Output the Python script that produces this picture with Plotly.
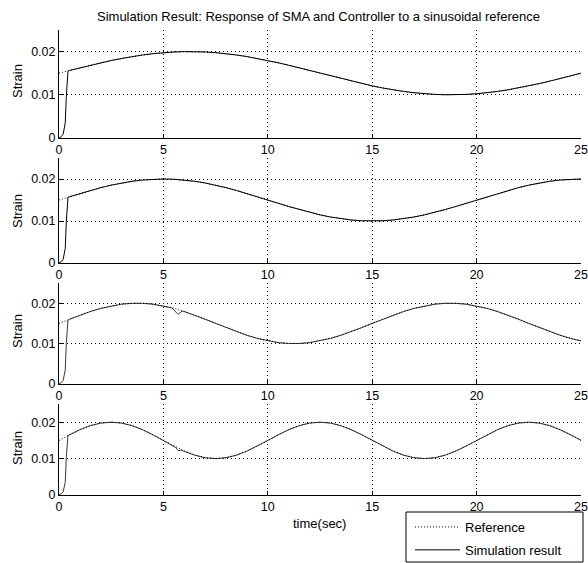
import plotly.graph_objects as go
from plotly.subplots import make_subplots

# ---------------- data ----------------
t_ref = [0, 0.5, 1, 1.5, 2, 2.5, 3, 3.5, 4, 4.5, 5, 5.5, 6, 6.5, 7, 7.5, 8, 8.5, 9, 9.5,
         10, 10.5, 11, 11.5, 12, 12.5, 13, 13.5, 14, 14.5, 15, 15.5, 16, 16.5, 17, 17.5,
         18, 18.5, 19, 19.5, 20, 20.5, 21, 21.5, 22, 22.5, 23, 23.5, 24, 24.5, 25]

ref1 = [0.01500, 0.01563, 0.01624, 0.01684, 0.01741, 0.01794, 0.01842, 0.01885, 0.01922, 0.01952,
        0.01976, 0.01991, 0.01999, 0.01999, 0.01991, 0.01976, 0.01952, 0.01922, 0.01885, 0.01842,
        0.01794, 0.01741, 0.01684, 0.01624, 0.01563, 0.01500, 0.01437, 0.01376, 0.01316, 0.01259,
        0.01206, 0.01158, 0.01115, 0.01078, 0.01048, 0.01024, 0.01009, 0.01001, 0.01001, 0.01009,
        0.01024, 0.01048, 0.01078, 0.01115, 0.01158, 0.01206, 0.01259, 0.01316, 0.01376, 0.01437,
        0.01500]
ref2 = [0.01500, 0.01578, 0.01655, 0.01727, 0.01794, 0.01854, 0.01905, 0.01946, 0.01976, 0.01994,
        0.02000, 0.01994, 0.01976, 0.01946, 0.01905, 0.01854, 0.01794, 0.01727, 0.01655, 0.01578,
        0.01500, 0.01422, 0.01345, 0.01273, 0.01206, 0.01146, 0.01095, 0.01054, 0.01024, 0.01006,
        0.01000, 0.01006, 0.01024, 0.01054, 0.01095, 0.01146, 0.01206, 0.01273, 0.01345, 0.01422,
        0.01500, 0.01578, 0.01655, 0.01727, 0.01794, 0.01854, 0.01905, 0.01946, 0.01976, 0.01994,
        0.02000]
ref3 = [0.01500, 0.01604, 0.01703, 0.01794, 0.01872, 0.01933, 0.01976, 0.01997, 0.01997, 0.01976,
        0.01933, 0.01872, 0.01794, 0.01703, 0.01604, 0.01500, 0.01396, 0.01297, 0.01206, 0.01128,
        0.01067, 0.01024, 0.01003, 0.01003, 0.01024, 0.01067, 0.01128, 0.01206, 0.01297, 0.01396,
        0.01500, 0.01604, 0.01703, 0.01794, 0.01872, 0.01933, 0.01976, 0.01997, 0.01997, 0.01976,
        0.01933, 0.01872, 0.01794, 0.01703, 0.01604, 0.01500, 0.01396, 0.01297, 0.01206, 0.01128,
        0.01067]
ref4 = [0.01500, 0.01655, 0.01794, 0.01905, 0.01976, 0.02000, 0.01976, 0.01905, 0.01794, 0.01655,
        0.01500, 0.01345, 0.01206, 0.01095, 0.01024, 0.01000, 0.01024, 0.01095, 0.01206, 0.01345,
        0.01500, 0.01655, 0.01794, 0.01905, 0.01976, 0.02000, 0.01976, 0.01905, 0.01794, 0.01655,
        0.01500, 0.01345, 0.01206, 0.01095, 0.01024, 0.01000, 0.01024, 0.01095, 0.01206, 0.01345,
        0.01500, 0.01655, 0.01794, 0.01905, 0.01976, 0.02000, 0.01976, 0.01905, 0.01794, 0.01655,
        0.01500]

t_sim12 = [0, 0.1, 0.2, 0.3, 0.35, 0.43, 0.5, 1, 1.5, 2, 2.5, 3, 3.5, 4, 4.5, 5, 5.5, 6, 6.5, 7,
           7.5, 8, 8.5, 9, 9.5, 10, 10.5, 11, 11.5, 12, 12.5, 13, 13.5, 14, 14.5, 15, 15.5, 16,
           16.5, 17, 17.5, 18, 18.5, 19, 19.5, 20, 20.5, 21, 21.5, 22, 22.5, 23, 23.5, 24, 24.5, 25]
sim1 = [0, 0.0003, 0.0009, 0.0035, 0.0096, 0.0154,
        0.01563, 0.01624, 0.01684, 0.01741, 0.01794, 0.01842, 0.01885, 0.01922, 0.01952,
        0.01976, 0.01991, 0.01999, 0.01999, 0.01991, 0.01976, 0.01952, 0.01922, 0.01885, 0.01842,
        0.01794, 0.01741, 0.01684, 0.01624, 0.01563, 0.01500, 0.01437, 0.01376, 0.01316, 0.01259,
        0.01206, 0.01158, 0.01115, 0.01078, 0.01048, 0.01024, 0.01009, 0.01001, 0.01001, 0.01009,
        0.01024, 0.01048, 0.01078, 0.01115, 0.01158, 0.01206, 0.01259, 0.01316, 0.01376, 0.01437,
        0.01500]
sim2 = [0, 0.0003, 0.0009, 0.0035, 0.0098, 0.0156,
        0.01578, 0.01655, 0.01727, 0.01794, 0.01854, 0.01905, 0.01946, 0.01976, 0.01994,
        0.02000, 0.01994, 0.01976, 0.01946, 0.01905, 0.01854, 0.01794, 0.01727, 0.01655, 0.01578,
        0.01500, 0.01422, 0.01345, 0.01273, 0.01206, 0.01146, 0.01095, 0.01054, 0.01024, 0.01006,
        0.01000, 0.01006, 0.01024, 0.01054, 0.01095, 0.01146, 0.01206, 0.01273, 0.01345, 0.01422,
        0.01500, 0.01578, 0.01655, 0.01727, 0.01794, 0.01854, 0.01905, 0.01946, 0.01976, 0.01994,
        0.02000]

t_sim3 = [0, 0.1, 0.2, 0.3, 0.35, 0.43, 0.5, 1, 1.5, 2, 2.5, 3, 3.5, 4, 4.5, 5, 5.4, 5.7, 5.9, 6,
          6.5, 7, 7.5, 8, 8.5, 9, 9.5, 10, 10.5, 11, 11.5, 12, 12.5, 13, 13.5, 14, 14.5, 15, 15.5,
          16, 16.5, 17, 17.5, 18, 18.5, 19, 19.5, 20, 20.5, 21, 21.5, 22, 22.5, 23, 23.5, 24, 24.5, 25]
sim3 = [0, 0.0003, 0.0009, 0.0035, 0.0100, 0.0158,
        0.01604, 0.01703, 0.01794, 0.01872, 0.01933, 0.01976, 0.01997, 0.01997, 0.01976,
        0.01933, 0.01885, 0.01725, 0.01805, 0.01794,
        0.01703, 0.01604, 0.01500, 0.01396, 0.01297, 0.01206, 0.01128,
        0.01067, 0.01024, 0.01003, 0.01003, 0.01024, 0.01067, 0.01128, 0.01206, 0.01297, 0.01396,
        0.01500, 0.01604, 0.01703, 0.01794, 0.01872, 0.01933, 0.01976, 0.01997, 0.01997, 0.01976,
        0.01933, 0.01872, 0.01794, 0.01703, 0.01604, 0.01500, 0.01396, 0.01297, 0.01206, 0.01128,
        0.01067]

t_sim4 = [0, 0.1, 0.2, 0.3, 0.35, 0.43, 0.5, 1, 1.5, 2, 2.5, 3, 3.5, 4, 4.5, 5, 5.45, 5.6, 5.7,
          5.85, 6, 6.5, 7, 7.5, 8, 8.5, 9, 9.5, 10, 10.5, 11, 11.5, 12, 12.5, 13, 13.5, 14, 14.5,
          15, 15.5, 16, 16.5, 17, 17.5, 18, 18.5, 19, 19.5, 20, 20.5, 21, 21.5, 22, 22.5, 23, 23.5,
          24, 24.5, 25]
sim4 = [0, 0.0003, 0.0009, 0.0035, 0.0105, 0.0163,
        0.01655, 0.01794, 0.01905, 0.01976, 0.02000, 0.01976, 0.01905, 0.01794, 0.01655,
        0.01500, 0.01350, 0.01300, 0.01220, 0.01230, 0.01200,
        0.01095, 0.01024, 0.01000, 0.01024, 0.01095, 0.01206, 0.01345,
        0.01500, 0.01655, 0.01794, 0.01905, 0.01976, 0.02000, 0.01976, 0.01905, 0.01794, 0.01655,
        0.01500, 0.01345, 0.01206, 0.01095, 0.01024, 0.01000, 0.01024, 0.01095, 0.01206, 0.01345,
        0.01500, 0.01655, 0.01794, 0.01905, 0.01976, 0.02000, 0.01976, 0.01905, 0.01794, 0.01655,
        0.01500]

x_ticks = [0, 5, 10, 15, 20, 25]
y_ticks = [0, 0.01, 0.02]
y_ticktext = ["0", "0.01", "0.02"]

title_text = "Simulation Result: Response of SMA and Controller to a sinusoidal reference"
xlabel_text = "time(sec)"
ylabel_text = "Strain"
series_names = ["Reference", "Simulation result"]

# ---------------- figure ----------------
W, H = 588, 563
FONT = "Liberation Sans, Arial, Helvetica, sans-serif"
TXT = 13
TICK = 12.5

refs = [ref1, ref2, ref3, ref4]
sims = [sim1, sim2, sim3, sim4]
sim_ts = [t_sim12, t_sim12, t_sim3, t_sim4]
sim_colors = ["#000000", "#000000", "#3a3a3a", "#3a3a3a"]

# axes boxes in pixels (top, bottom)
boxes = [(30, 138), (158, 263), (283, 384), (404, 495)]
x_left, x_right = 59, 581

fig = make_subplots(rows=4, cols=1)

for i in range(4):
    fig.add_trace(go.Scatter(
        x=sim_ts[i], y=sims[i], mode="lines", name=series_names[1],
        line=dict(color=sim_colors[i], width=1),
        legendgroup="sim", showlegend=(i == 0), legendrank=2,
    ), row=i + 1, col=1)
    fig.add_trace(go.Scatter(
        x=t_ref, y=refs[i], mode="lines", name=series_names[0],
        line=dict(color="black", width=1, dash="1px,2px"),
        legendgroup="ref", showlegend=(i == 0), legendrank=1,
    ), row=i + 1, col=1)

for i, (top, bot) in enumerate(boxes):
    xa = "xaxis" if i == 0 else f"xaxis{i+1}"
    ya = "yaxis" if i == 0 else f"yaxis{i+1}"
    fig.layout[xa].update(
        domain=[x_left / W, x_right / W], range=[0, 25], automargin=False,
        tickmode="array", tickvals=x_ticks, ticks="inside", ticklen=4,
        tickcolor="black", showline=True, linecolor="black", linewidth=1,
        mirror=False, showgrid=True, gridcolor="black", gridwidth=1,
        griddash="1px,3px", zeroline=False,
        tickfont=dict(family=FONT, size=TICK, color="black"),
    )
    fig.layout[ya].update(
        domain=[1 - bot / H, 1 - top / H], range=[0, 0.025], automargin=False,
        tickmode="array", tickvals=y_ticks, ticktext=y_ticktext,
        ticks="inside", ticklen=4, tickcolor="black", showline=True,
        linecolor="black", linewidth=1, mirror=False, showgrid=True,
        gridcolor="black", gridwidth=1, griddash="1px,3px", zeroline=False,
        tickfont=dict(family=FONT, size=TICK, color="black"),
    )

annotations = [
    dict(text=title_text, x=318 / W, y=1 - 17 / H, xref="paper", yref="paper",
         showarrow=False, xanchor="center", yanchor="middle",
         font=dict(family=FONT, size=TXT, color="black")),
    dict(text=xlabel_text, x=319 / W, y=1 - 523 / H, xref="paper", yref="paper",
         showarrow=False, xanchor="center", yanchor="middle",
         font=dict(family=FONT, size=TXT, color="black")),
]
for yc in [81, 211, 331, 448]:
    annotations.append(dict(text=ylabel_text, x=17 / W, y=1 - yc / H, xref="paper",
                            yref="paper", showarrow=False, textangle=-90,
                            xanchor="center", yanchor="middle",
                            font=dict(family=FONT, size=TXT, color="black")))

fig.update_layout(
    width=W, height=H, margin=dict(l=0, r=0, t=0, b=0, autoexpand=False),
    paper_bgcolor="white", plot_bgcolor="white",
    annotations=annotations,
    showlegend=True,
    legend=dict(x=410 / W, y=1 - 512 / H, xanchor="left", yanchor="top",
                bgcolor="rgba(0,0,0,0)", borderwidth=0, tracegroupgap=3,
                itemwidth=45, font=dict(family=FONT, size=TXT, color="black")),
    shapes=[dict(type="rect", xref="paper", yref="paper",
                 x0=406 / W, x1=583 / W, y0=1 - 562 / H, y1=1 - 512 / H,
                 line=dict(color="black", width=1), fillcolor="white", layer="below")],
)

fig.write_html("out.html", config={"displayModeBar": False},
               post_script="document.body.style.margin='0';document.body.style.padding='0';")
